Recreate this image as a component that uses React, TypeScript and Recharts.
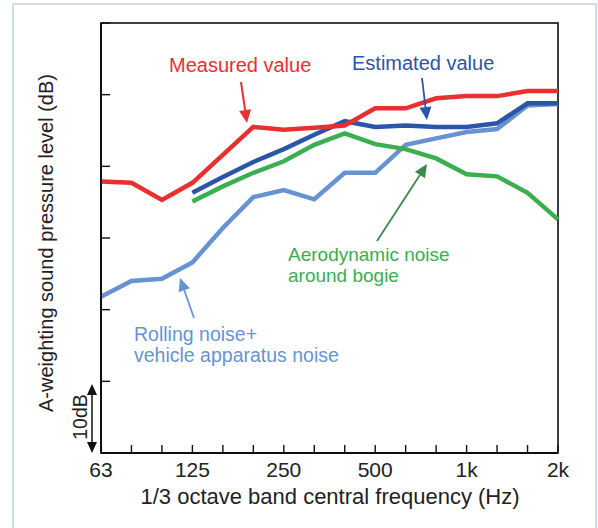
import React from "react"
import { LineChart, Line, XAxis, YAxis, ReferenceArea } from "recharts"

const FREQS = ["63", "80", "100", "125", "160", "200", "250", "315", "400", "500", "630", "800", "1000", "1250", "1600", "2000"]
const FREQ_LABELS: Record<string, string> = { "63": "63", "125": "125", "250": "250", "500": "500", "1000": "1k", "2000": "2k" }
const Y_TICKS = [0, 10, 20, 30, 40, 50, 60]

// dB relative to the bottom of the plot (scale is 10 dB per tick)
const MEASURED = [37.9, 37.7, 35.3, 37.7, 41.6, 45.5, 45.1, 45.4, 45.7, 48.1, 48.1, 49.5, 49.8, 49.8, 50.5, 50.5]
const ESTIMATED = [null, null, null, 36.3, 38.5, 40.6, 42.4, 44.4, 46.3, 45.5, 45.7, 45.5, 45.5, 46.0, 48.8, 48.8]
const AERO = [null, null, null, 35.1, 37.2, 39.1, 40.7, 43.0, 44.6, 43.1, 42.4, 41.1, 38.9, 38.6, 36.3, 32.6]
const ROLLING = [21.8, 24.0, 24.3, 26.6, 31.4, 35.7, 36.7, 35.4, 39.1, 39.1, 43.0, 43.9, 44.8, 45.2, 48.5, 48.7]

const RED = "#e8312f"
const BLUE = "#2b55a5"
const GREEN = "#3bae4f"
const LIGHT = "#6893d2"
const FONT = "'Liberation Sans', Arial, sans-serif"

const data = FREQS.map((f, i) => ({
  freq: f,
  measured: MEASURED[i],
  estimated: ESTIMATED[i],
  aero: AERO[i],
  rolling: ROLLING[i],
}))

function Arrow({ x1, y1, x2, y2, color, width = 1.5, head = 12, half = 5 }: any) {
  const dx = x2 - x1
  const dy = y2 - y1
  const len = Math.sqrt(dx * dx + dy * dy)
  const ux = dx / len
  const uy = dy / len
  const bx = x2 - ux * head
  const by = y2 - uy * head
  const pts = `${x2},${y2} ${bx - uy * half},${by + ux * half} ${bx + uy * half},${by - ux * half}`
  return (
    <g>
      <line x1={x1} y1={y1} x2={bx} y2={by} stroke={color} strokeWidth={width} />
      <polygon points={pts} fill={color} />
    </g>
  )
}

// tick mark drawn inward from the axis, label only on octave bands
const XTick = ({ x, y, payload }: any) => {
  const label = FREQ_LABELS[payload.value]
  return (
    <g>
      <path d={`M${x},${y}V${y - 8}`} stroke="#111" strokeWidth={1.4} />
      {label && (
        <text x={x} y={y + 24} textAnchor="middle" fontSize={21} fill="#222" fontFamily={FONT}>
          {label}
        </text>
      )}
    </g>
  )
}

const YTick = ({ x, y }: any) => <path d={`M${x},${y}H${x + 9}`} stroke="#111" strokeWidth={1.4} />

export default function App() {
  return (
    <div style={{ position: "absolute", left: 0, top: 0, width: 598, height: 528, overflow: "hidden", background: "#fff" }}>
      <div style={{ position: "absolute", left: 12, top: 3, width: 585, height: 560, border: "2px solid #cfdce9", boxSizing: "border-box" }} />
      <div style={{ position: "absolute", left: 597, top: 0, width: 1, height: 528, background: "#eef2f6" }} />
      <div style={{ position: "absolute", left: 0, top: 0 }}>
        <LineChart width={598} height={528} data={data} margin={{ top: 23, right: 40, bottom: 45, left: 100 }}>
          <XAxis
            dataKey="freq"
            interval={0}
            height={30}
            tickSize={0}
            tickMargin={0}
            tick={<XTick />}
            tickLine={false}
            axisLine={{ stroke: "#000", strokeWidth: 1.5 }}
          />
          <YAxis
            type="number"
            domain={[0, 60]}
            ticks={Y_TICKS}
            interval={0}
            width={1}
            tickSize={0}
            tickMargin={0}
            tick={<YTick />}
            tickLine={false}
            axisLine={{ stroke: "#000", strokeWidth: 1.5 }}
          />
          <ReferenceArea x1="63" x2="2000" y1={0} y2={60} fill="none" stroke="#000" strokeWidth={1.5} />
          <Line dataKey="rolling" stroke={LIGHT} strokeWidth={4.5} dot={false} isAnimationActive={false} type="linear" />
          <Line dataKey="aero" stroke={GREEN} strokeWidth={4.5} dot={false} isAnimationActive={false} type="linear" />
          <Line dataKey="estimated" stroke={BLUE} strokeWidth={4.5} dot={false} isAnimationActive={false} type="linear" />
          <Line dataKey="measured" stroke={RED} strokeWidth={4.5} dot={false} isAnimationActive={false} type="linear" />
        </LineChart>
      </div>
      <svg width={598} height={528} style={{ position: "absolute", left: 0, top: 0, pointerEvents: "none" }} fontFamily={FONT}>
        <text transform="translate(53,243) rotate(-90)" textAnchor="middle" fontSize={20} fill="#222">
          A-weighting sound pressure level (dB)
        </text>
        <text x={330} y={504} textAnchor="middle" fontSize={22} fill="#222">
          1/3 octave band central frequency (Hz)
        </text>
        <text transform="translate(87,417) rotate(-90)" textAnchor="middle" fontSize={19.5} fill="#222">
          10dB
        </text>
        <Arrow x1={92} y1={418} x2={92} y2={384} color="#111" width={1.5} head={11} half={5} />
        <Arrow x1={92} y1={418} x2={92} y2={453} color="#111" width={1.5} head={11} half={5} />

        <text x={169} y={72} fontSize={20} fill={RED}>Measured value</text>
        <Arrow x1={241} y1={82} x2={247} y2={123} color={RED} width={2} head={13} half={6} />

        <text x={352} y={70} fontSize={20} fill={BLUE}>Estimated value</text>
        <Arrow x1={422} y1={78} x2={427} y2={120} color={BLUE} width={1.8} head={13} half={6} />

        <text x={288} y={261} fontSize={19} fill={GREEN}>Aerodynamic noise</text>
        <text x={288} y={282} fontSize={19} fill={GREEN}>around bogie</text>
        <Arrow x1={377} y1={241} x2={427} y2={164} color="#3a8a4c" width={1.8} head={13} half={6} />

        <text x={134} y={341} fontSize={19.5} fill={LIGHT}>Rolling noise+</text>
        <text x={134} y={362} fontSize={19.5} fill={LIGHT}>vehicle apparatus noise</text>
        <Arrow x1={194} y1={318} x2={180} y2={278} color={LIGHT} width={1.8} head={13} half={6} />
      </svg>
    </div>
  )
}
